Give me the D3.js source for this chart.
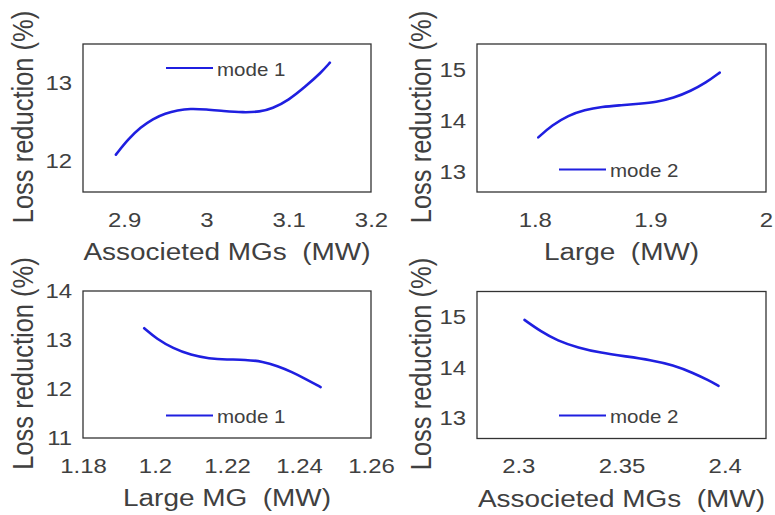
<!DOCTYPE html>
<html>
<head>
<meta charset="utf-8">
<script src="https://cdn.jsdelivr.net/npm/d3@7"></script>
<style>
  html, body { margin: 0; padding: 0; background: #fff; }
  svg { display: block; }
  text { font-family: "Liberation Sans", Arial, Helvetica, sans-serif; fill: #404040; white-space: pre; }
</style>
</head>
<body>
<svg id="chart" width="775" height="515"></svg>
<script>
// ---------------- data ----------------
// Panel 1: mode 1 vs associated MGs
const p1X = [2.890, 2.905, 2.920, 2.935, 2.950, 2.965, 2.980, 3.000, 3.020, 3.045, 3.065, 3.080, 3.100, 3.120, 3.140, 3.150];
const p1Y = [12.08, 12.28, 12.43, 12.54, 12.61, 12.65, 12.67, 12.66, 12.64, 12.62, 12.63, 12.67, 12.78, 12.95, 13.14, 13.26];
// Panel 2: mode 2 vs large
const p2X = [1.803, 1.815, 1.829, 1.843, 1.858, 1.875, 1.890, 1.905, 1.920, 1.935, 1.948, 1.960];
const p2Y = [13.67, 13.91, 14.10, 14.21, 14.27, 14.30, 14.33, 14.36, 14.44, 14.58, 14.74, 14.94];
// Panel 3: mode 1 vs large MG
const p3X = [1.197, 1.2005, 1.205, 1.210, 1.215, 1.220, 1.225, 1.230, 1.234, 1.238, 1.242, 1.246];
const p3Y = [13.24, 13.02, 12.83, 12.69, 12.62, 12.60, 12.60, 12.56, 12.47, 12.35, 12.20, 12.04];
// Panel 4: mode 2 vs associated MGs
const p4X = [2.303, 2.311, 2.319, 2.329, 2.340, 2.352, 2.364, 2.375, 2.385, 2.392, 2.397];
const p4Y = [14.94, 14.71, 14.53, 14.39, 14.29, 14.22, 14.15, 14.05, 13.89, 13.75, 13.64];

const xTicks1 = [2.9, 3.0, 3.1, 3.2];
const yTicks1 = [12, 13];
const xTicks2 = [1.8, 1.9, 2.0];
const yTicks2 = [13, 14, 15];
const xTicks3 = [1.18, 1.2, 1.22, 1.24, 1.26];
const yTicks3 = [11, 12, 13, 14];
const xTicks4 = [2.3, 2.35, 2.4];
const yTicks4 = [13, 14, 15];

const xTitles = ["Associeted MGs  (MW)", "Large  (MW)", "Large MG  (MW)", "Associeted MGs  (MW)"];
const yTitle = "Loss reduction (%)";
const legendLabels = ["mode 1", "mode 2", "mode 1", "mode 2"];

// ---------------- layout ----------------
const SX = 1.14; // horizontal stretch of the original figure's text
const LINE = "#1f1fe0";
const FRAME = "#333333";

const panels = [
  { box: [83, 371, 44, 192], xd: [2.85, 3.2], yd: [11.6, 13.5], xs: p1X, ys: p1Y, xt: xTicks1, yt: yTicks1,
    xTitle: xTitles[0], leg: legendLabels[0], legX: 166, legY: 68, yTitleX: 33 },
  { box: [477, 766, 44, 192], xd: [1.75, 2.0], yd: [12.6, 15.5], xs: p2X, ys: p2Y, xt: xTicks2, yt: yTicks2,
    xTitle: xTitles[1], leg: legendLabels[1], legX: 559, legY: 169.5, yTitleX: 431 },
  { box: [83, 371, 291, 438], xd: [1.18, 1.26], yd: [11, 14], xs: p3X, ys: p3Y, xt: xTicks3, yt: yTicks3,
    xTitle: xTitles[2], leg: legendLabels[2], legX: 166, legY: 415.5, yTitleX: 33 },
  { box: [477, 766, 291.5, 438.5], xd: [2.28, 2.42], yd: [12.6, 15.5], xs: p4X, ys: p4Y, xt: xTicks4, yt: yTicks4,
    xTitle: xTitles[3], leg: legendLabels[3], legX: 559, legY: 415.5, yTitleX: 431 }
];

const svg = d3.select("#chart");
svg.append("rect").attr("width", 775).attr("height", 515).attr("fill", "#fff");

const fmt = d3.format("~g");

panels.forEach(p => {
  const [x0, x1, y0, y1] = p.box;
  const x = d3.scaleLinear().domain(p.xd).range([x0, x1]);
  const y = d3.scaleLinear().domain(p.yd).range([y1, y0]);
  const g = svg.append("g");

  // x axis
  const gx = g.append("g").attr("transform", `translate(0,${y1})`)
    .call(d3.axisBottom(x).tickValues(p.xt).tickFormat(fmt).tickSize(0).tickPadding(20));
  gx.select(".domain").remove();
  gx.selectAll("text").attr("font-size", 21).attr("fill", "#404040")
    .attr("font-family", "Liberation Sans, Arial, sans-serif")
    .attr("transform", `scale(${SX},1)`);

  // y axis
  const gy = g.append("g").attr("transform", `translate(${x0},0)`)
    .call(d3.axisLeft(y).tickValues(p.yt).tickFormat(fmt).tickSize(0).tickPadding(11));
  gy.select(".domain").remove();
  gy.selectAll("text").attr("font-size", 21).attr("fill", "#404040")
    .attr("font-family", "Liberation Sans, Arial, sans-serif")
    .attr("x", -11 / SX)
    .attr("transform", `scale(${SX},1)`);

  // frame
  g.append("rect").attr("x", x0).attr("y", y0).attr("width", x1 - x0).attr("height", y1 - y0)
    .attr("fill", "none").attr("stroke", FRAME).attr("stroke-width", 1.3);

  // curve
  const pts = p.xs.map((v, i) => [v, p.ys[i]]);
  const line = d3.line().x(d => x(d[0])).y(d => y(d[1])).curve(d3.curveBasis);
  g.append("path").datum(pts).attr("d", line)
    .attr("fill", "none").attr("stroke", LINE).attr("stroke-width", 2.6)
    .attr("stroke-linecap", "round");

  // legend
  g.append("line").attr("x1", p.legX).attr("x2", p.legX + 47)
    .attr("y1", p.legY).attr("y2", p.legY)
    .attr("stroke", LINE).attr("stroke-width", 2.2);
  g.append("text")
    .attr("transform", `translate(${p.legX + 51},${p.legY + 7.5}) scale(${SX},1)`)
    .attr("font-size", 18).text(p.leg);

  // x title
  g.append("text")
    .attr("transform", `translate(${(x0 + x1) / 2},${y1 + 68}) scale(${SX},1)`)
    .attr("text-anchor", "middle").attr("font-size", 24.5).text(p.xTitle);

  // y title
  g.append("text")
    .attr("transform", `translate(${p.yTitleX},${(y0 + y1) / 2 - 1}) scale(${SX},1) rotate(-90)`)
    .attr("text-anchor", "middle").attr("font-size", 25.5).text(yTitle);
});
</script>
</body>
</html>
